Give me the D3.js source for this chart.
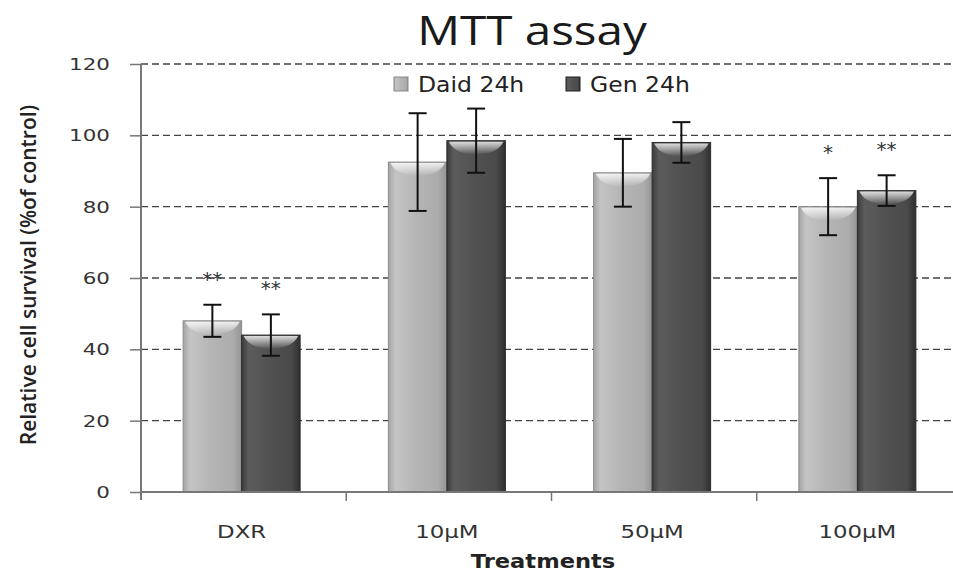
<!DOCTYPE html>
<html>
<head>
<meta charset="utf-8">
<script src="https://cdn.jsdelivr.net/npm/d3@7"></script>
<style>
  body { margin: 0; background: #fff; }
  svg { display: block; }
</style>
</head>
<body>
<div id="chart"></div>
<script>
// Chart data
const categories = ['DXR', '10\u00b5M', '50\u00b5M', '100\u00b5M'];
const seriesNames = ['Daid 24h', 'Gen 24h'];
const daidValues = [48, 92.5, 89.5, 80];
const daidErrors = [4.5, 13.7, 9.5, 8];
const genValues = [44, 98.5, 98, 84.5];
const genErrors = [5.8, 9, 5.7, 4.3];
const daidStars = ['**', '', '', '*'];
const genStars = ['**', '', '', '**'];
const yTicks = [0, 20, 40, 60, 80, 100, 120];

const width = 953, height = 574;
const margin = { top: 64, right: -9, bottom: 82, left: 141 };
const textFont = 'DejaVu Sans, Verdana, sans-serif';

const svg = d3.select('#chart').append('svg')
  .attr('width', width)
  .attr('height', height);

const defs = svg.append('defs');

// Horizontal gradients to mimic the glossy bars
function barGradient(id, stops) {
  const g = defs.append('linearGradient').attr('id', id)
    .attr('x1', '0%').attr('x2', '100%').attr('y1', '0%').attr('y2', '0%');
  stops.forEach(s => g.append('stop').attr('offset', s[0]).attr('stop-color', s[1]));
}
barGradient('gradDaid', [['0%', '#a4a4a4'], ['12%', '#c4c4c4'], ['45%', '#b6b6b6'], ['85%', '#acacac'], ['100%', '#959595']]);
barGradient('gradGen', [['0%', '#3c3c3c'], ['12%', '#5c5c5c'], ['45%', '#525252'], ['85%', '#4a4a4a'], ['100%', '#2f2f2f']]);

const capGrad = defs.append('linearGradient').attr('id', 'gradCap')
  .attr('x1', '0%').attr('x2', '0%').attr('y1', '0%').attr('y2', '100%');
capGrad.append('stop').attr('offset', '0%').attr('stop-color', '#fff').attr('stop-opacity', 0.8);
capGrad.append('stop').attr('offset', '100%').attr('stop-color', '#fff').attr('stop-opacity', 0);

const x0 = d3.scaleBand()
  .domain(categories)
  .range([margin.left, width - margin.right])
  .paddingInner(0.43)
  .paddingOuter(0.215);

const x1 = d3.scaleBand()
  .domain(seriesNames)
  .range([0, x0.bandwidth()]);

const y = d3.scaleLinear()
  .domain([0, 120])
  .range([height - margin.bottom, margin.top]);

// Gridlines
svg.append('g')
  .selectAll('line')
  .data(yTicks.filter(d => d > 0))
  .enter()
  .append('line')
  .attr('x1', margin.left)
  .attr('x2', width)
  .attr('y1', d => y(d))
  .attr('y2', d => y(d))
  .attr('stroke', '#444')
  .attr('stroke-width', 1.3)
  .attr('stroke-dasharray', '7,4');

// Bars
const rows = categories.map((c, i) => ({
  cat: c,
  items: [
    { s: seriesNames[0], v: daidValues[i], e: daidErrors[i], star: daidStars[i], fill: 'url(#gradDaid)', stroke: '#8a8a8a' },
    { s: seriesNames[1], v: genValues[i], e: genErrors[i], star: genStars[i], fill: 'url(#gradGen)', stroke: '#2a2a2a' }
  ]
}));

const groups = svg.append('g')
  .selectAll('g')
  .data(rows)
  .enter()
  .append('g')
  .attr('transform', d => `translate(${x0(d.cat) - 2},0)`);

const bars = groups.selectAll('g.bar')
  .data(d => d.items)
  .enter()
  .append('g')
  .attr('class', 'bar');

bars.append('rect')
  .attr('x', d => x1(d.s))
  .attr('y', d => y(d.v))
  .attr('width', x1.bandwidth())
  .attr('height', d => y(0) - y(d.v))
  .attr('fill', d => d.fill)
  .attr('stroke', d => d.stroke)
  .attr('stroke-width', 1);

// glossy cap near the top of each bar
bars.append('path')
  .attr('d', d => {
    const xl = x1(d.s) + 2, xr = x1(d.s) + x1.bandwidth() - 2, yt = y(d.v) + 1;
    const w = xr - xl;
    return `M${xl},${yt} L${xr},${yt} Q${xr - w * 0.1},${yt + 12} ${xl + w / 2},${yt + 13} Q${xl + w * 0.1},${yt + 12} ${xl},${yt} Z`;
  })
  .attr('fill', 'url(#gradCap)');

// Error bars
const capW = 9;
bars.append('line')
  .attr('x1', d => x1(d.s) + x1.bandwidth() / 2)
  .attr('x2', d => x1(d.s) + x1.bandwidth() / 2)
  .attr('y1', d => y(d.v + d.e))
  .attr('y2', d => y(d.v - d.e))
  .attr('stroke', '#111')
  .attr('stroke-width', 2);

[1, -1].forEach(sign => {
  bars.append('line')
    .attr('x1', d => x1(d.s) + x1.bandwidth() / 2 - capW)
    .attr('x2', d => x1(d.s) + x1.bandwidth() / 2 + capW)
    .attr('y1', d => y(d.v + sign * d.e))
    .attr('y2', d => y(d.v + sign * d.e))
    .attr('stroke', '#111')
    .attr('stroke-width', 2);
});

// Significance stars
bars.append('text')
  .attr('x', d => x1(d.s) + x1.bandwidth() / 2)
  .attr('y', d => y(d.v + d.e) - 19)
  .attr('text-anchor', 'middle')
  .style('font-family', textFont)
  .style('font-size', '20px')
  .style('fill', '#333')
  .text(d => d.star);

// Y axis (line + ticks via d3, labels drawn stretched like the source)
const yAxis = d3.axisLeft(y).tickValues(yTicks).tickSize(11).tickFormat('');
const gy = svg.append('g')
  .attr('transform', `translate(${margin.left},0)`)
  .call(yAxis);
gy.select('.domain').remove();
gy.selectAll('.tick line').attr('stroke', '#777').attr('stroke-width', 1.5);
svg.append('line')
  .attr('x1', margin.left).attr('x2', margin.left)
  .attr('y1', y(120)).attr('y2', y(0) + 8)
  .attr('stroke', '#777').attr('stroke-width', 2);

svg.append('g')
  .selectAll('text')
  .data(yTicks)
  .enter()
  .append('text')
  .attr('transform', d => `translate(110,${y(d) + 6}) scale(1.3,1)`)
  .attr('text-anchor', 'end')
  .style('font-family', textFont)
  .style('font-size', '16.5px')
  .style('fill', '#333')
  .text(d => d);

// X axis
svg.append('line')
  .attr('x1', margin.left)
  .attr('x2', width)
  .attr('y1', y(0))
  .attr('y2', y(0))
  .attr('stroke', '#777')
  .attr('stroke-width', 2);

const gap = (x0.step() - x0.bandwidth()) / 2;
svg.append('g')
  .selectAll('line')
  .data(categories.slice(1))
  .enter()
  .append('line')
  .attr('x1', d => x0(d) - gap)
  .attr('x2', d => x0(d) - gap)
  .attr('y1', y(0))
  .attr('y2', y(0) + 9)
  .attr('stroke', '#777')
  .attr('stroke-width', 1.5);

svg.append('g')
  .selectAll('text')
  .data(categories)
  .enter()
  .append('text')
  .attr('transform', d => `translate(${x0(d) + x0.bandwidth() / 2 - 2},538) scale(1.27,1)`)
  .attr('text-anchor', 'middle')
  .style('font-family', textFont)
  .style('font-size', '18px')
  .style('fill', '#333')
  .text(d => d);

// Axis titles
svg.append('text')
  .attr('transform', 'translate(543,568) scale(1.13,1)')
  .attr('text-anchor', 'middle')
  .style('font-family', textFont)
  .style('font-weight', 'bold')
  .style('font-size', '20px')
  .style('fill', '#222')
  .text('Treatments');

svg.append('text')
  .attr('transform', 'translate(36,275) rotate(-90)')
  .attr('text-anchor', 'middle')
  .style('font-family', 'Open Sans, sans-serif')
  .style('font-weight', '600')
  .style('font-size', '21px')
  .style('fill', '#222')
  .text('Relative cell survival (%of control)');

// Title
svg.append('text')
  .attr('transform', 'translate(532,45) scale(1.19,1)')
  .attr('text-anchor', 'middle')
  .style('font-family', 'Open Sans, sans-serif')
  .style('font-size', '40px')
  .style('fill', '#1a1a1a')
  .text('MTT assay');

// Legend
const legendData = [
  { name: seriesNames[0], fill: 'url(#gradDaid)', stroke: '#888', x: 394 },
  { name: seriesNames[1], fill: 'url(#gradGen)', stroke: '#222', x: 566 }
];
const li = svg.append('g')
  .selectAll('g')
  .data(legendData)
  .enter()
  .append('g')
  .attr('transform', d => `translate(${d.x},77)`);
li.append('rect')
  .attr('width', 14)
  .attr('height', 14)
  .attr('fill', d => d.fill)
  .attr('stroke', d => d.stroke);
li.append('text')
  .attr('transform', 'translate(24,15) scale(1.12,1)')
  .style('font-family', textFont)
  .style('font-size', '21px')
  .style('fill', '#222')
  .text(d => d.name);
</script>
</body>
</html>
